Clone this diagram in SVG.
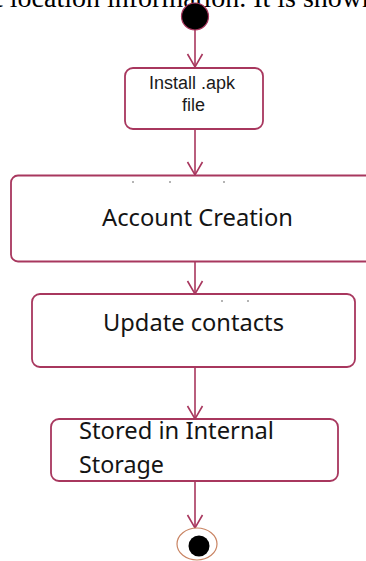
<svg xmlns="http://www.w3.org/2000/svg" width="366" height="561" viewBox="0 0 366 561">
  <style>
    .box { fill: #ffffff; stroke: #a8375e; stroke-width: 1.8; }
    .edge { fill: none; stroke: #a8375e; stroke-width: 1.6; marker-end: url(#vee); }
    .small { font-family: "Liberation Sans", Arial, sans-serif; font-size: 18px; fill: #1a1a1a; text-anchor: middle; }
    .big { font-family: "Noto Sans", "Open Sans", sans-serif; font-size: 24px; fill: #141414; }
    .speck { fill: #555555; }
  </style>
  <defs>
    <marker id="vee" markerUnits="userSpaceOnUse" markerWidth="30" markerHeight="30" refX="0" refY="0" orient="auto" overflow="visible">
      <path d="M-13,-7.5 L0,0 L-13,7.5" fill="none" stroke="#a8375e" stroke-width="1.6"/>
    </marker>
  </defs>

  <rect width="366" height="561" fill="#ffffff"/>

  <!-- running text of the page, clipped at the top edge -->
  <text x="-5" y="7" font-family="Liberation Serif, 'Times New Roman', serif" font-size="28" fill="#000000">t location information. It is shown</text>

  <!-- connectors -->
  <g id="connectors">
    <line class="edge" x1="195" y1="30" x2="195" y2="67"/>
    <line class="edge" x1="195" y1="129" x2="195" y2="175"/>
    <line class="edge" x1="195" y1="262" x2="195" y2="294"/>
    <line class="edge" x1="195" y1="367" x2="195" y2="419"/>
    <line class="edge" x1="195" y1="481" x2="195" y2="528"/>
  </g>

  <!-- start -->
  <g id="start">
    <circle cx="195" cy="16.5" r="13.5" fill="#000000" stroke="#a8375e" stroke-width="1.2"/>
  </g>

  <g id="install">
    <rect class="box" x="125" y="68" width="138" height="61" rx="8"/>
    <text class="small" x="192" y="89">Install .apk</text>
    <text class="small" x="193.5" y="111">file</text>
  </g>

  <g id="account">
    <rect class="box" x="11" y="175.5" width="370" height="86" rx="7"/>
    <circle class="speck" cx="133" cy="182" r="0.8"/>
    <circle class="speck" cx="170" cy="182" r="0.8"/>
    <circle class="speck" cx="224" cy="182" r="0.8"/>
    <text class="big" x="102" y="226" textLength="191" lengthAdjust="spacingAndGlyphs">Account Creation</text>
  </g>

  <g id="update">
    <rect class="box" x="32" y="294" width="323" height="73" rx="8"/>
    <circle class="speck" cx="222" cy="301" r="0.8"/>
    <circle class="speck" cx="248" cy="301" r="0.8"/>
    <text class="big" x="103" y="331" textLength="181" lengthAdjust="spacingAndGlyphs">Update contacts</text>
  </g>

  <g id="stored">
    <rect class="box" x="51" y="419" width="287" height="62" rx="8"/>
    <text class="big" x="79" y="439" textLength="195" lengthAdjust="spacingAndGlyphs">Stored in Internal</text>
    <text class="big" x="79" y="473" textLength="85" lengthAdjust="spacingAndGlyphs">Storage</text>
  </g>

  <!-- end -->
  <g id="end">
    <ellipse cx="197" cy="544" rx="20" ry="16" fill="#ffffff" stroke="#c98463" stroke-width="1.2"/>
    <circle cx="199" cy="546" r="10.5" fill="#000000"/>
  </g>
</svg>
